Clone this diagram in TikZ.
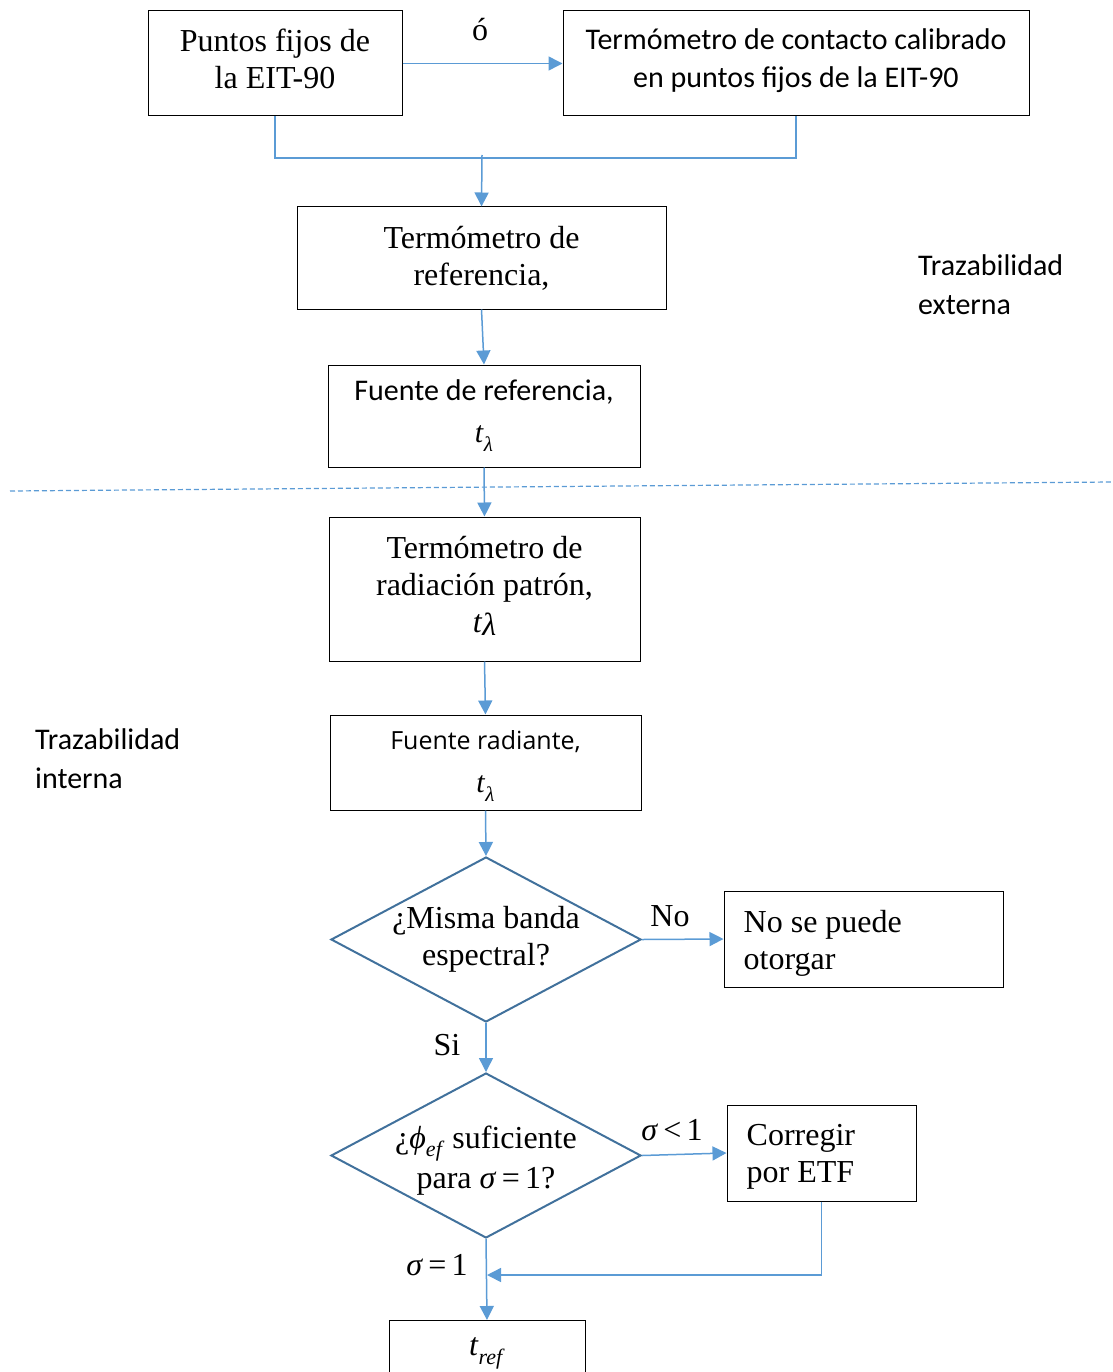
\documentclass[tikz,border=0pt]{standalone}
\usepackage{fontspec}
\setmainfont{Liberation Serif}
\newfontfamily\calib{Carlito}
\newfontfamily\opens{Open Sans}
\usetikzlibrary{arrows.meta,shapes.geometric}
\definecolor{arrblue}{HTML}{5B9BD5}
\definecolor{diablue}{HTML}{41719C}
\newcommand\tlam{\textit{t}\raisebox{-0.3em}{\fontsize{21}{21}\selectfont\textit{λ}}}
\newcommand\tlamb{\textit{t}\raisebox{-0.1em}{\textit{λ}}}
\tikzset{
  box/.style={draw=black, line width=1pt, rectangle, inner sep=0pt, align=center, font=\fontsize{32}{37}\selectfont},
  sbox/.style={box, font=\calib\fontsize{30}{38}\selectfont},
  dia/.style={draw=diablue, line width=2pt, diamond, inner sep=0pt, minimum width=310pt, minimum height=165pt},
  arr/.style={draw=arrblue, line width=1.5pt, -{Triangle[length=14pt,width=14pt]}},
  conn/.style={draw=arrblue, line width=1.5pt},
  lbl/.style={font=\fontsize{32}{37}\selectfont, inner sep=0pt},
  slbl/.style={font=\calib\fontsize{30}{39}\selectfont, align=left, inner sep=0pt}
}
\begin{document}
\begin{tikzpicture}[x=1pt,y=-1pt]
\useasboundingbox (0,0) rectangle (1112,1372);
\node[box, minimum width=254pt, minimum height=105pt, label={[lbl, align=center, yshift=5pt]center:{Puntos fijos de\\la EIT-90}}] (A) at (275,63.5) {};
\node[box, minimum width=466pt, minimum height=105pt, label={[align=center, inner sep=0pt, yshift=3pt, font=\calib\fontsize{30}{38}\selectfont]center:{Termómetro de contacto calibrado\\en puntos fijos de la EIT-90}}] (B) at (796,63.5) {};
\node[box, minimum width=369pt, minimum height=102pt] (C) at (481.5,258) {Termómetro de\\referencia,};
\node[sbox, minimum width=312pt, minimum height=102pt, font=\calib\fontsize{30}{42}\selectfont] (D) at (484,416) {Fuente de referencia,\\{\rmfamily\fontsize{30}{30}\selectfont\tlam}};
\node[box, minimum width=311pt, minimum height=144pt, label={[lbl, align=center, yshift=3pt, font=\fontsize{32}{37}\selectfont]center:{Termómetro de\\radiación patrón,\\\tlamb}}] (E) at (484.5,589) {};
\node[box, minimum width=311pt, minimum height=95pt, label={[align=center, inner sep=0pt, yshift=-3pt, font=\opens\fontsize{25}{43}\selectfont]center:{Fuente radiante,\\{\rmfamily\fontsize{30}{30}\selectfont\tlam}}}] (F) at (485.5,762.5) {};
\node[dia, label={[lbl, align=center]center:{¿Misma banda\\espectral?}}] (G) at (486,939.5) {};
\node[box, minimum width=279pt, minimum height=96pt, label={[lbl, align=left, anchor=west, xshift=20pt, yshift=-4pt]west:{No se puede\\otorgar}}] (H) at (863.5,939) {};
\node[dia, label={[lbl, align=center, font=\fontsize{32}{40}\selectfont, yshift=-5pt]center:{¿\textit{ϕ}\raisebox{-0.25em}{\fontsize{22}{22}\selectfont\textit{ef}} suficiente\\para \textit{σ}\,=\,1?}}] (I) at (486,1155.5) {};
\node[box, minimum width=189pt, minimum height=96pt, label={[lbl, align=left, anchor=west, xshift=20pt, yshift=-4pt]west:{Corregir\\por ETF}}] (J) at (821.5,1153) {};
\node[box, anchor=north, minimum width=196pt, minimum height=80pt, label={[lbl, yshift=7pt]center:{\textit{t}\raisebox{-0.3em}{\fontsize{22}{22}\selectfont\textit{ref}}}}] (K) at (487,1320) {};
\node[lbl] (o) at (480,30) {ó};
\node[slbl, anchor=west] (te) at (918,285) {Trazabilidad\\externa};
\node[slbl, anchor=west] (ti) at (35,759) {Trazabilidad\\interna};
\coordinate (j) at (482,158);
\coordinate (jt) at (482,155);
\coordinate (m) at (487,1275);
\coordinate (dl) at (10,491);
\coordinate (dr) at (1112,482);
\draw[arrblue, line width=1.2pt, dash pattern=on 5pt off 3pt] (dl) -- (dr);
\draw[arr] (A.east) -- (B.west);
\draw[conn] (A.south) -- (A.south |- j) -- (B.south |- j) -- (B.south);
\draw[arr] (jt) -- (C.north);
\draw[arr] (C.south) -- (D.north);
\draw[arr] (D.south) -- (E.north);
\draw[arr] (E.south) -- (F.north);
\draw[arr] (F.south) -- (G.north);
\draw[arr] (G.east) -- (H.west);
\draw[arr] (G.south) -- (I.north);
\draw[arr] (I.east) -- (J.west);
\draw[arr] (J.south) |- (m);
\draw[arr] (I.south) -- (K.north);
\node[lbl] (no) at (670,916) {No};
\node[lbl] (si) at (447,1045) {Si};
\node[lbl] (sl) at (672,1130) {\textit{σ}\,<\,1};
\node[lbl] (se) at (437,1265) {\textit{σ}\,=\,1};
\end{tikzpicture}
\end{document}
